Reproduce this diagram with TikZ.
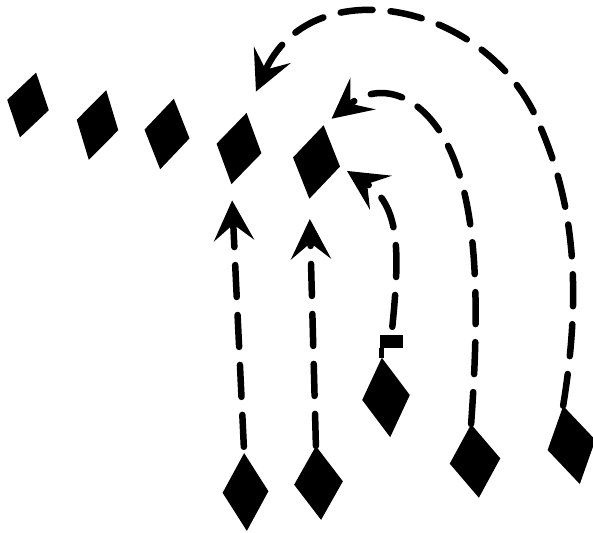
\documentclass[tikz,border=0pt]{standalone}
\usetikzlibrary{shapes.geometric,arrows.meta}
\begin{document}
\begin{tikzpicture}[x=1pt,y=-1pt,
  kite/.style n args={3}{diamond,fill=black,draw=none,inner sep=0pt,
    minimum width=#1pt,minimum height=#2pt,rotate=#3},
  trail/.style={line width=6.5pt,line cap=round,dash pattern=on 32pt off 18pt,
    -{Stealth[length=40pt,width=40pt,inset=16pt]}},
  flagbox/.style={rectangle,fill=black,draw=none,inner sep=0pt,
    minimum width=23pt,minimum height=13pt}]
\useasboundingbox (0,0) rectangle (593,532);
% top row
\node[kite={43}{67}{-14}] (D1) at (28,105) {};
\node[kite={43}{72}{-14}] (D2) at (97.5,125) {};
\node[kite={46}{72}{-11}] (D3) at (167,134) {};
\node[kite={46}{73}{-12}] (D4) at (239,148.5) {};
\node[kite={48}{75}{-11}] (D5) at (316.5,162) {};
% bottom
\node[kite={46}{78}{2}] (B1) at (245.5,492) {};
\node[kite={49}{74}{4}] (B2) at (318.5,483) {};
\node[kite={48}{80}{6}] (B3) at (386,397.5) {};
\node[kite={51}{74}{6}] (B4) at (475,461) {};
\node[kite={49}{80}{12}] (B5) at (571.5,445) {};
% flag
\node[flagbox] (flag) at (391.5,341.5) {};
\draw[line width=5pt] (B3.north) -- (B3.north |- flag.south);
% routes
\draw[trail,shorten <=6pt,shorten >=16pt] (B1.north) -- (D4.south);
\draw[trail,shorten >=20pt] (B2.north) -- (D5.south);
\draw[trail,shorten <=8pt,shorten >=8pt] (flag.north) .. controls (400,250) and (400,205) .. (D5.east);
\draw[trail,shorten >=10pt] (B4.north) .. controls (480,300) and (478,200) .. (445,140)
  .. controls (420,95) and (380,80) .. (D5.north);
\draw[trail,shorten >=23pt] (B5.north) .. controls (582,290) and (575,200) .. (535,115)
  .. controls (480,0) and (310,-30) .. (D4.north);
\end{tikzpicture}
\end{document}
